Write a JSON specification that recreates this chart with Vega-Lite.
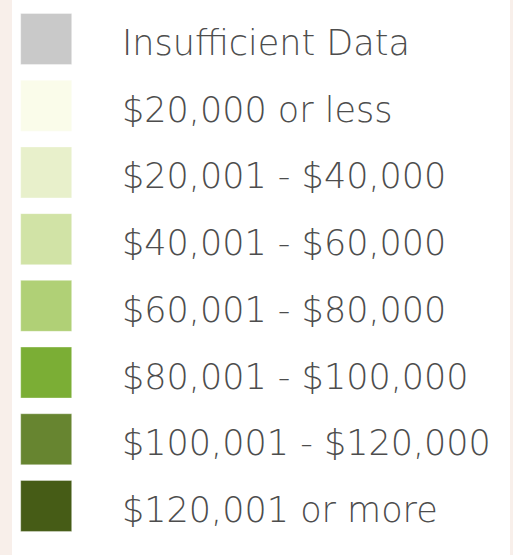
{
  "$schema": "https://vega.github.io/schema/vega-lite/v6.json",
  "width": 513,
  "height": 555,
  "autosize": {"type": "fit", "contains": "padding"},
  "padding": {"left": 12, "right": 3, "top": 0, "bottom": 0},
  "background": "#f8efea",
  "config": {"view": {"fill": "#ffffff", "stroke": null}},
  "data": {
    "values": [
      {"label": "Insufficient Data", "color": "#c9c9c9", "order": 0},
      {"label": "$20,000 or less", "color": "#fafcea", "order": 1},
      {"label": "$20,001 - $40,000", "color": "#e8f0cb", "order": 2},
      {"label": "$40,001 - $60,000", "color": "#d1e3a6", "order": 3},
      {"label": "$60,001 - $80,000", "color": "#b0d076", "order": 4},
      {"label": "$80,001 - $100,000", "color": "#7bae35", "order": 5},
      {"label": "$100,001 - $120,000", "color": "#678530", "order": 6},
      {"label": "$120,001 or more", "color": "#465c16", "order": 7}
    ]
  },
  "encoding": {
    "y": {
      "field": "label",
      "type": "ordinal",
      "sort": {"field": "order"},
      "scale": {"type": "point", "padding": 0.66, "align": 0.443},
      "axis": null
    }
  },
  "layer": [
    {
      "mark": {"type": "square", "size": 2601, "filled": true, "opacity": 1, "stroke": "#ffffff", "strokeOpacity": 0.35, "strokeWidth": 1},
      "encoding": {
        "x": {"datum": 34.2, "type": "quantitative", "scale": {"domain": [0, 498], "nice": false, "zero": false}, "axis": null},
        "color": {"field": "color", "type": "nominal", "scale": null, "legend": null}
      }
    },
    {
      "mark": {"type": "text", "align": "left", "baseline": "alphabetic", "dy": 16, "font": "DejaVu Sans", "fontWeight": 200, "fontSize": 35, "color": "#4d4d4d"},
      "encoding": {
        "x": {"datum": 110, "type": "quantitative"},
        "text": {"field": "label"}
      }
    }
  ]
}
